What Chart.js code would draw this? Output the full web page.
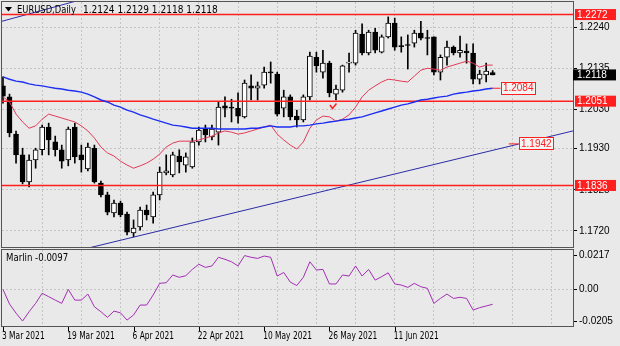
<!DOCTYPE html>
<html>
<head>
<meta charset="utf-8">
<script src="https://cdn.jsdelivr.net/npm/chart.js@4.4.1/dist/chart.umd.min.js"></script>
<style>
  html, body { margin: 0; padding: 0; background: #e9e9e9; }
  #wrap { position: relative; width: 620px; height: 346px; }
  #wrap canvas { position: absolute; left: 0; top: 0; }
</style>
</head>
<body>
<div id="wrap">
  <canvas id="price" width="620" height="346"></canvas>
  <canvas id="osc" width="620" height="346"></canvas>
</div>
<script>
// EURUSD daily bars, oldest first
const OPEN = [1.2090,1.2062,1.1967,1.1914,1.1845,1.1901,1.1927,1.1985,1.1947,1.1927,
  1.1901,1.1985,1.1914,1.1878,1.1931,1.1842,1.1812,1.1766,1.1791,1.1763,
  1.1715,1.1730,1.1773,1.1756,1.1812,1.1868,1.1863,1.1911,1.1888,1.1883,
  1.1947,1.1980,1.1960,1.1972,1.2039,1.2036,1.2033,1.2011,1.2090,1.2084,
  1.2092,1.2125,1.2120,1.2033,1.2062,1.2013,1.2003,1.2062,1.2163,1.2125,
  1.2148,1.2069,1.2079,1.2148,1.2148,1.2222,1.2174,1.2227,1.2176,1.2215,
  1.2250,1.2192,1.2194,1.2199,1.2225,1.2212,1.2215,1.2125,1.2163,1.2189,
  1.2174,1.2179,1.2174,1.2107,1.2118,1.2124];
const HIGH = [1.2113,1.2069,1.1975,1.1931,1.1914,1.1931,1.1990,1.1995,1.1962,1.1939,
  1.1985,1.1995,1.1939,1.1944,1.1939,1.1847,1.1819,1.1799,1.1796,1.1768,
  1.1748,1.1781,1.1786,1.1819,1.1883,1.1914,1.1921,1.1927,1.1919,1.1957,
  1.1985,1.1990,1.1990,1.2049,1.2062,1.2056,1.2072,1.2105,1.2118,1.2100,
  1.2138,1.2151,1.2125,1.2079,1.2067,1.2028,1.2067,1.2176,1.2176,1.2181,
  1.2153,1.2092,1.2143,1.2174,1.2232,1.2248,1.2232,1.2237,1.2220,1.2266,
  1.2263,1.2215,1.2220,1.2232,1.2255,1.2232,1.2215,1.2169,1.2204,1.2192,
  1.2217,1.2197,1.2197,1.2130,1.2148,1.2129];
const LOW = [1.2046,1.1960,1.1893,1.1840,1.1832,1.1880,1.1914,1.1914,1.1911,1.1880,
  1.1886,1.1893,1.1870,1.1873,1.1842,1.1807,1.1761,1.1756,1.1756,1.1710,
  1.1705,1.1722,1.1748,1.1740,1.1799,1.1863,1.1858,1.1868,1.1870,1.1880,
  1.1939,1.1947,1.1952,1.1939,1.2011,1.1998,1.1995,1.2008,1.2054,1.2054,
  1.2084,1.2097,1.2013,1.2011,1.2003,1.1985,1.1998,1.2054,1.2125,1.2110,
  1.2062,1.2054,1.2074,1.2125,1.2143,1.2169,1.2169,1.2174,1.2174,1.2212,
  1.2181,1.2176,1.2133,1.2189,1.2207,1.2169,1.2118,1.2105,1.2143,1.2169,
  1.2163,1.2148,1.2095,1.2095,1.2100,1.2118];
const CLOSE = [1.2064,1.1970,1.1914,1.1845,1.1901,1.1927,1.1985,1.1952,1.1927,1.1898,
  1.1980,1.1909,1.1901,1.1934,1.1845,1.1812,1.1768,1.1791,1.1761,1.1717,
  1.1727,1.1773,1.1761,1.1812,1.1870,1.1873,1.1914,1.1896,1.1909,1.1947,
  1.1977,1.1965,1.1980,1.2036,1.2033,1.2033,1.2013,1.2097,1.2084,1.2090,
  1.2125,1.2123,1.2018,1.2062,1.2011,1.2003,1.2062,1.2166,1.2141,1.2148,
  1.2072,1.2082,1.2141,1.2151,1.2225,1.2174,1.2227,1.2181,1.2215,1.2250,
  1.2189,1.2190,1.2193,1.2225,1.2212,1.2211,1.2125,1.2163,1.2189,1.2174,
  1.2181,1.2174,1.2107,1.2120,1.2128,1.2118];

// moving averages (fast = red, slow = blue)
const MA_FAST = [1.2062,1.2049,1.2018,1.1998,1.1982,1.1988,1.2005,1.2018,1.2013,1.2008,
  1.2003,1.1998,1.1988,1.1975,1.1957,1.1934,1.1919,1.1911,1.1898,1.1888,
  1.1880,1.1886,1.1893,1.1903,1.1916,1.1934,1.1944,1.1949,1.1949,1.1949,
  1.1952,1.1957,1.1962,1.1970,1.1975,1.1972,1.1967,1.1970,1.1975,1.1980,
  1.1985,1.1990,1.1967,1.1952,1.1939,1.1929,1.1947,1.1982,1.2003,1.2013,
  1.2011,1.2000,1.2005,1.2016,1.2036,1.2062,1.2079,1.2090,1.2100,1.2107,
  1.2105,1.2102,1.2100,1.2115,1.2130,1.2135,1.2133,1.2130,1.2138,1.2143,
  1.2148,1.2153,1.2148,1.2138,1.2143,1.2143];
const MA_SLOW = [1.2113,1.2107,1.2102,1.2100,1.2095,1.2092,1.2090,1.2087,1.2084,1.2082,
  1.2079,1.2077,1.2074,1.2069,1.2062,1.2054,1.2049,1.2041,1.2036,1.2028,
  1.2023,1.2016,1.2011,1.2005,1.2000,1.1995,1.1990,1.1988,1.1985,1.1982,
  1.1982,1.1982,1.1982,1.1980,1.1980,1.1980,1.1980,1.1980,1.1982,1.1982,
  1.1985,1.1988,1.1985,1.1985,1.1985,1.1988,1.1988,1.1990,1.1993,1.1995,
  1.1998,1.2000,1.2003,1.2005,1.2008,1.2011,1.2016,1.2021,1.2026,1.2031,
  1.2036,1.2041,1.2044,1.2049,1.2054,1.2056,1.2059,1.2062,1.2064,1.2069,
  1.2072,1.2074,1.2077,1.2079,1.2082,1.2084];

// Marlin oscillator
const MARLIN = [-0.0001,-0.0095,-0.0154,-0.0205,-0.0145,-0.0091,-0.0026,-0.0048,-0.0070,-0.0091,
  -0.0001,-0.0070,-0.0070,-0.0031,-0.0113,-0.0145,-0.0181,-0.0141,-0.0152,-0.0199,
  -0.0166,-0.0102,-0.0102,-0.0037,0.0038,0.0042,0.0092,0.0077,0.0087,0.0128,
  0.0161,0.0141,0.0150,0.0206,0.0193,0.0177,0.0150,0.0217,0.0206,0.0199,
  0.0214,0.0206,0.0085,0.0108,0.0046,0.0024,0.0077,0.0177,0.0124,0.0128,
  0.0034,0.0034,0.0092,0.0085,0.0150,0.0085,0.0128,0.0059,0.0081,0.0106,
  0.0034,0.0027,0.0012,0.0038,0.0016,0.0006,-0.0091,-0.0059,-0.0031,-0.0059,
  -0.0052,-0.0059,-0.0134,-0.0119,-0.0108,-0.0097];

const DATE_LABELS = ['3 Mar 2021', '19 Mar 2021', '6 Apr 2021', '22 Apr 2021', '10 May 2021', '26 May 2021', '11 Jun 2021'];
const DATE_STEP = 10;
const GRID_STEP = 6;
const PRICE_TICKS = [1.2240, 1.2135, 1.2030, 1.1930, 1.1825, 1.1720];
const MARLIN_TICKS = [0.0217, 0, -0.0205];
const LEVELS = [1.2272, 1.2051, 1.1836];
const TREND_LOWER = [[10, 1.1664], [90, 1.1986]];
const TREND_UPPER = [[-1, 1.2251], [12, 1.2310]];
const TREND_MARK = [79, 1.1942];
const CHECK_MARK = [51, 1.2036];
const SYMBOL = 'EURUSD,Daily';

// visible ranges
const X_MIN = -0.15, X_MAX = 87.3;
const PRICE_MIN = 1.1679, PRICE_MAX = 1.2304;
const MARLIN_MIN = -0.0237, MARLIN_MAX = 0.0253;

const AXIS_W = 47;
const GRID = '#c4c4c4';
const FRAME = '#555';
const RED = '#ff1f1f';
const TEXT_FONT = '"DejaVu Sans", sans-serif';

const last = CLOSE.length - 1;
const pts = arr => arr.map((v, i) => ({ x: i, y: v }));
const seg = list => list.map(([x, y]) => ({ x, y }));

// text squeezed horizontally, like the terminal's narrow captions
function squeeze(ctx, text, x, y, sx, size, color, align) {
  ctx.save();
  ctx.font = size + 'px ' + TEXT_FONT;
  ctx.fillStyle = color;
  ctx.textBaseline = 'middle';
  ctx.textAlign = align || 'left';
  ctx.translate(x, y);
  ctx.scale(sx, 1);
  ctx.fillText(text, 0, 0);
  ctx.restore();
}

function frame(ctx, a) {
  ctx.save();
  ctx.strokeStyle = FRAME;
  ctx.lineWidth = 1;
  ctx.strokeRect(a.left - 0.5, a.top - 0.5, a.width + 1, a.height + 1);
  ctx.restore();
}

function boxLabel(ctx, text, left, cy) {
  ctx.save();
  ctx.fillStyle = '#f3f3f3';
  ctx.fillRect(left, cy - 6.5, 35, 13);
  ctx.strokeStyle = RED;
  ctx.lineWidth = 1;
  ctx.strokeRect(Math.round(left) + 0.5, Math.round(cy - 6.5) + 0.5, 34, 12);
  ctx.fillStyle = RED;
  ctx.font = '10px "Liberation Sans"';
  ctx.textAlign = 'center';
  ctx.textBaseline = 'middle';
  ctx.fillText(text, left + 17.5, cy + 0.5);
  ctx.restore();
}

function xAxis(h) {
  return {
    type: 'linear', min: X_MIN, max: X_MAX, offset: false,
    afterBuildTicks: s => {
      s.ticks = [];
      for (let i = GRID_STEP; i < X_MAX; i += GRID_STEP) s.ticks.push({ value: i });
    },
    afterFit: s => { s.height = h; s.paddingLeft = 0; s.paddingRight = 0; },
    ticks: { display: false },
    grid: { color: GRID, drawTicks: false, offset: false },
    border: { display: false, dash: [2, 2] },
  };
}

// right-hand value axis with a fixed width and no label overhang
function fitRight(s) {
  s.width = AXIS_W;
  s.paddingTop = 0;
  s.paddingBottom = 0;
}

const lineDs = (data, color, width, order) => ({
  type: 'line', data, borderColor: color, borderWidth: width,
  pointRadius: 0, tension: 0, fill: false, order,
});

// price panel: candles, averages, trend lines, levels
new Chart(document.getElementById('price'), {
  type: 'bar',
  data: {
    datasets: [
      ...LEVELS.map(v => lineDs(seg([[X_MIN - 2, v], [X_MAX + 2, v]]), RED, 1.5, 2)),
      lineDs(seg(TREND_LOWER), '#2b2ba6', 1, 2),
      lineDs(seg(TREND_UPPER), '#2b2ba6', 1, 2),
      lineDs(pts(MA_SLOW), '#1c2ef2', 1.4, 1),
      lineDs(pts(MA_FAST), '#e23a57', 1, 1),
      {
        data: OPEN.map((_, i) => ({ x: i, y: [LOW[i], HIGH[i]] })),
        backgroundColor: '#000', barThickness: 1, grouped: false, order: 4,
      },
      {
        data: OPEN.map((o, i) => ({ x: i, y: [o, CLOSE[i]] })),
        backgroundColor: c => CLOSE[c.dataIndex] >= OPEN[c.dataIndex] ? '#fff' : '#000',
        borderColor: '#000', borderWidth: 1, borderSkipped: false,
        barThickness: 5, minBarLength: 1, grouped: false, order: 3,
      },
    ],
  },
  options: {
    responsive: false, animation: false,
    layout: { padding: { left: 2, top: 2, right: 0, bottom: 99 } },
    plugins: { legend: { display: false }, tooltip: { enabled: false } },
    scales: {
      x: xAxis(0),
      y: {
        position: 'right', min: PRICE_MIN, max: PRICE_MAX,
        afterBuildTicks: s => { s.ticks = PRICE_TICKS.map(v => ({ value: v })); },
        afterFit: fitRight,
        ticks: { autoSkip: false, padding: 2, color: '#000', font: { family: 'Liberation Sans', size: 10 }, callback: v => v.toFixed(4) },
        grid: { color: GRID, tickLength: 4, tickColor: '#000', tickBorderDash: [] },
        border: { display: false, dash: [2, 2] },
      },
    },
  },
  plugins: [{
    id: 'priceOverlay',
    afterDatasetsDraw(chart) {
      const { ctx, chartArea: a, scales: { x, y } } = chart;

      // check mark under the low
      const cx = x.getPixelForValue(CHECK_MARK[0]), cy = y.getPixelForValue(CHECK_MARK[1]);
      ctx.save();
      ctx.strokeStyle = RED;
      ctx.lineWidth = 1.5;
      ctx.beginPath();
      ctx.moveTo(cx - 6, cy - 2);
      ctx.lineTo(cx - 3.5, cy + 1.5);
      ctx.lineTo(cx + 0.5, cy - 3.5);
      ctx.stroke();
      ctx.restore();

      // value tags: slow MA at the last bar, support line further right
      const maY = y.getPixelForValue(MA_SLOW[last]);
      const maX = x.getPixelForValue(last);
      const trX = x.getPixelForValue(TREND_MARK[0]);
      const trY = y.getPixelForValue(TREND_MARK[1]);
      ctx.save();
      ctx.strokeStyle = RED;
      ctx.lineWidth = 1;
      ctx.beginPath();
      ctx.moveTo(maX, maY); ctx.lineTo(maX + 8, maY);
      ctx.moveTo(trX - 10, trY); ctx.lineTo(trX, trY);
      ctx.stroke();
      ctx.restore();
      boxLabel(ctx, MA_SLOW[last].toFixed(4), maX + 8, maY);
      boxLabel(ctx, TREND_MARK[1].toFixed(4), trX, trY);

      frame(ctx, a);

      // header
      ctx.save();
      ctx.fillStyle = '#000';
      ctx.beginPath();
      ctx.moveTo(5, 7); ctx.lineTo(12, 7); ctx.lineTo(8.5, 11.5);
      ctx.closePath();
      ctx.fill();
      ctx.restore();
      squeeze(ctx, SYMBOL, 17, 10, 0.76, 11, '#000');
      const ohlc = [OPEN[last], HIGH[last], LOW[last], CLOSE[last]].map(v => v.toFixed(4)).join(' ');
      squeeze(ctx, ohlc, 83, 10, 0.82, 11, '#000');
    },
    afterDraw(chart) {
      const { ctx, chartArea: a, scales: { y } } = chart;
      ctx.save();
      ctx.font = '10px "Liberation Sans"';
      ctx.textBaseline = 'middle';
      LEVELS.forEach(v => {
        const py = y.getPixelForValue(v);
        ctx.fillStyle = RED;
        ctx.fillRect(a.right + 2, py - 5.5, 41, 11);
        ctx.fillStyle = '#fff';
        ctx.fillText(v.toFixed(4), a.right + 4, py + 0.5);
      });
      const cy = y.getPixelForValue(CLOSE[last]);
      ctx.fillStyle = '#000';
      ctx.fillRect(a.right, cy - 5.5, 43, 11);
      ctx.fillStyle = '#fff';
      ctx.fillText(CLOSE[last].toFixed(4), a.right + 4, cy + 0.5);
      ctx.restore();
    },
  }],
});

// oscillator panel with the date axis
new Chart(document.getElementById('osc'), {
  type: 'line',
  data: {
    datasets: [lineDs(pts(MARLIN), '#a22fb3', 1, 1)],
  },
  options: {
    responsive: false, animation: false,
    layout: { padding: { left: 2, top: 250, right: 0, bottom: 0 } },
    plugins: { legend: { display: false }, tooltip: { enabled: false } },
    scales: {
      x: xAxis(20),
      y: {
        position: 'right', min: MARLIN_MIN, max: MARLIN_MAX,
        afterBuildTicks: s => { s.ticks = MARLIN_TICKS.map(v => ({ value: v })); },
        afterFit: fitRight,
        ticks: { autoSkip: false, padding: 2, color: '#000', font: { family: 'Liberation Sans', size: 10 }, callback: v => v === 0 ? '0.00' : v.toFixed(4) },
        grid: { color: c => c.tick && c.tick.value === 0 ? GRID : 'rgba(0,0,0,0)', tickLength: 4, tickColor: '#000', tickBorderDash: [] },
        border: { display: false, dash: [2, 2] },
      },
    },
  },
  plugins: [{
    id: 'oscOverlay',
    afterDraw(chart) {
      const { ctx, chartArea: a, scales: { x } } = chart;
      frame(ctx, a);
      squeeze(ctx, 'Marlin ' + MARLIN[last].toFixed(4), 6, 258.5, 0.78, 11, '#000');
      ctx.save();
      ctx.strokeStyle = '#000';
      ctx.lineWidth = 1;
      DATE_LABELS.forEach((label, k) => {
        const px = x.getPixelForValue(k * DATE_STEP);
        ctx.beginPath();
        ctx.moveTo(Math.round(px) + 0.5, a.bottom + 1);
        ctx.lineTo(Math.round(px) + 0.5, a.bottom + 5);
        ctx.stroke();
        squeeze(ctx, label, px - 1, 336.5, 0.68, 11, '#000');
      });
      ctx.restore();
    },
  }],
});
</script>
</body>
</html>
